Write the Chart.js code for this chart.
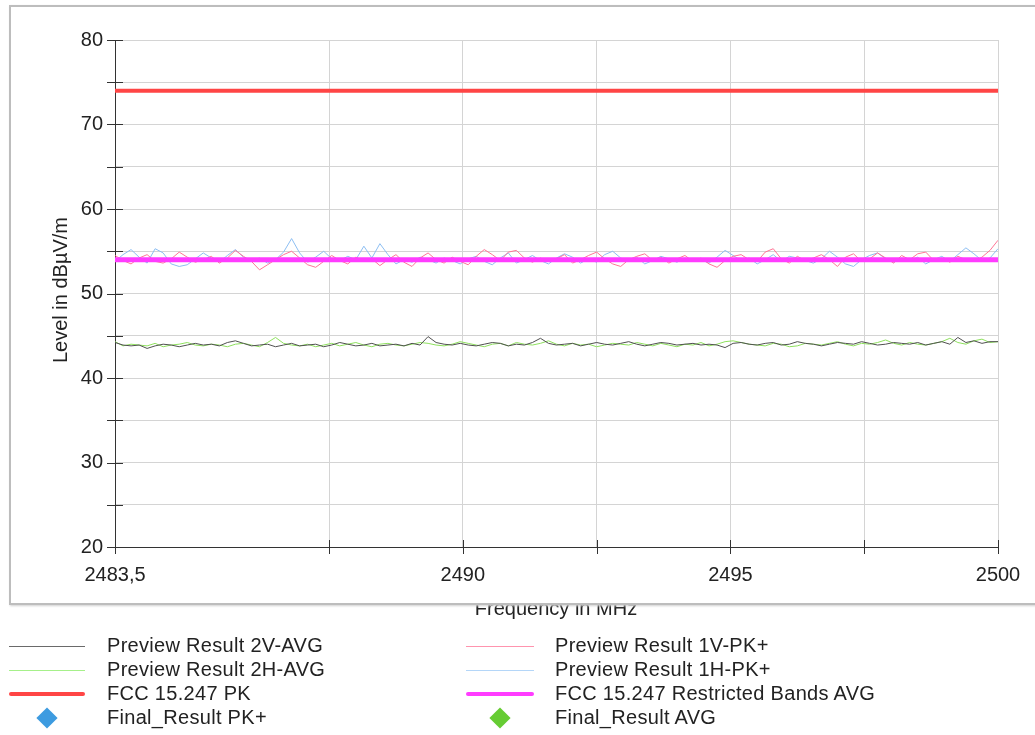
<!DOCTYPE html>
<html>
<head>
<meta charset="utf-8">
<script src="https://cdn.jsdelivr.net/npm/chart.js@4"></script>
<style>
  body { margin: 0; background: #fff; font-family: 'Liberation Sans', Arial, sans-serif; color: #222; }
  #wrap { position: relative; width: 1035px; height: 735px; overflow: hidden; }
  #myChart { position: absolute; left: 0; top: 0; }
  .frame { position: absolute; left: 9px; top: 5px; width: 1060px; height: 596px;
           border: 2px solid #bdbdbd; box-shadow: 1px 1px 2px #d0d0d0; }
  .xtitle { position: absolute; left: 0; top: 605px; width: 1112px; height: 20px; overflow: hidden;
            text-align: center; font-size: 20px; }
  .xtitle span { position: relative; top: -8px; }
  .ytitle { position: absolute; left: 60px; top: 290px; font-size: 20px; white-space: nowrap;
            transform: translate(-50%, -50%) rotate(-90deg); }
  .leg { position: absolute; font-size: 20px; letter-spacing: 0.3px; line-height: 22px; white-space: nowrap; }
  .legline { position: absolute; }
  .diamond { position: absolute; width: 15px; height: 15px; transform: translate(-50%, -50%) rotate(45deg); }
</style>
</head>
<body>
<div id="wrap">
  <canvas id="myChart" width="1035" height="735"></canvas>
  <div class="xtitle"><span>Frequency in MHz</span></div>
  <div class="frame"></div>
  <div class="ytitle">Level in dBµV/m</div>
  <div id="legend"></div>
</div>
<script>
const ctx = document.getElementById('myChart');

// sweep frequencies (MHz)
const freqMHz = [
  2483.5, 2483.65, 2483.8, 2483.95, 2484.1, 2484.25, 2484.4, 2484.55, 2484.7, 2484.85,
  2485.0, 2485.15, 2485.3, 2485.45, 2485.6, 2485.75, 2485.9, 2486.05, 2486.2, 2486.35,
  2486.5, 2486.65, 2486.8, 2486.95, 2487.1, 2487.25, 2487.4, 2487.55, 2487.7, 2487.85,
  2488.0, 2488.15, 2488.3, 2488.45, 2488.6, 2488.75, 2488.9, 2489.05, 2489.2, 2489.35,
  2489.5, 2489.65, 2489.8, 2489.95, 2490.1, 2490.25, 2490.4, 2490.55, 2490.7, 2490.85,
  2491.0, 2491.15, 2491.3, 2491.45, 2491.6, 2491.75, 2491.9, 2492.05, 2492.2, 2492.35,
  2492.5, 2492.65, 2492.8, 2492.95, 2493.1, 2493.25, 2493.4, 2493.55, 2493.7, 2493.85,
  2494.0, 2494.15, 2494.3, 2494.45, 2494.6, 2494.75, 2494.9, 2495.05, 2495.2, 2495.35,
  2495.5, 2495.65, 2495.8, 2495.95, 2496.1, 2496.25, 2496.4, 2496.55, 2496.7, 2496.85,
  2497.0, 2497.15, 2497.3, 2497.45, 2497.6, 2497.75, 2497.9, 2498.05, 2498.2, 2498.35,
  2498.5, 2498.65, 2498.8, 2498.95, 2499.1, 2499.25, 2499.4, 2499.55, 2499.7, 2499.85,
  2500.0
];

// Preview Result 1V-PK+
const v1PK = [
  54.5, 53.9, 53.5, 54.2, 54.6, 53.8, 53.6, 54.1, 54.9, 54.3, 53.7,
  54.0, 54.4, 53.6, 54.2, 55.1, 54.4, 53.8, 52.8, 53.4, 54.0, 54.6,
  55.0, 54.2, 53.4, 53.1, 53.8, 54.5, 53.9, 53.5, 54.3, 53.9, 54.1,
  53.3, 54.0, 54.6, 53.7, 53.2, 54.2, 54.8, 54.0, 53.6, 54.3, 53.8,
  53.4, 54.4, 55.2, 54.6, 53.9, 54.9, 55.1, 54.2, 53.7, 54.2, 53.8,
  54.1, 54.6, 53.6, 54.0, 54.5, 54.9, 54.1, 53.5, 53.2, 54.0, 54.4,
  54.7, 53.9, 54.3, 53.6, 54.1, 54.5, 53.8, 54.2, 53.5, 53.1, 53.9,
  54.4, 54.6, 54.0, 53.8, 54.9, 55.3, 54.1, 53.6, 54.4, 53.9, 54.2,
  54.6, 54.0, 53.2, 54.3, 54.7, 53.8, 54.1, 54.8, 54.2, 53.6, 54.5,
  54.0, 54.7, 54.9, 53.9, 54.2, 53.7, 54.4, 54.0, 53.8, 54.3, 55.1, 56.3
];

// Preview Result 1H-PK+
const h1PK = [
  53.8, 54.6, 55.2, 54.3, 53.6, 55.3, 54.8, 53.5, 53.2, 53.4, 54.1,
  54.8, 54.2, 53.7, 54.5, 55.2, 54.3, 53.9, 54.2, 53.6, 54.0, 54.9,
  56.5, 54.8, 53.7, 54.3, 55.0, 54.1, 53.9, 54.4, 54.0, 55.6, 54.2,
  55.9, 54.6, 53.5, 54.0, 53.7, 54.3, 54.0, 53.6, 54.2, 53.9, 53.5,
  54.1, 54.4, 53.8, 53.4, 54.2, 54.8, 53.6, 54.0, 54.5, 53.9, 53.5,
  54.2, 54.7, 54.3, 53.6, 54.1, 53.7, 54.6, 55.0, 54.2, 53.8, 54.3,
  53.5, 53.9, 54.4, 54.1, 53.7, 54.2, 53.8, 54.0, 53.6, 54.3, 55.1,
  54.5, 53.9, 54.2, 53.5, 54.0, 54.6, 53.8, 54.4, 54.2, 53.9, 53.6,
  54.1, 55.0, 54.3, 53.5, 53.2, 54.0, 54.5, 54.8, 54.1, 53.7, 54.2,
  53.9, 54.3, 53.5, 54.0, 54.4, 53.8, 54.6, 55.4, 54.7, 53.9, 54.2, 55.3
];

// Preview Result 2V-AVG
const v2AVG = [
  44.2, 43.9, 43.8, 43.9, 43.5, 43.8, 44.0, 43.9, 43.7, 43.9, 44.1,
  43.9, 44.0, 43.8, 44.2, 44.4, 44.1, 43.8, 43.9, 44.0, 43.7, 43.9,
  44.1, 43.8, 43.9, 44.0, 43.7, 43.9, 44.2, 44.0, 43.8, 43.9, 44.1,
  43.8, 43.9, 44.0, 43.8, 44.1, 43.9, 44.9, 44.2, 44.0, 43.9, 44.1,
  43.9, 43.8, 44.0, 44.2, 44.1, 43.8, 44.0, 43.9, 44.2, 44.7, 44.1,
  43.9, 44.0, 44.1, 43.8, 44.0, 44.2, 44.0, 43.9, 44.1, 44.3, 44.0,
  43.8, 44.0, 44.2, 44.1, 43.9, 44.0, 44.1, 43.9, 44.0, 43.9, 43.6,
  44.1, 44.2, 44.0, 43.9, 44.1, 44.2, 43.9, 44.0, 44.3, 44.1, 44.0,
  43.8, 44.0, 44.2, 44.1, 44.0, 44.3, 44.1, 43.9, 44.0, 44.2, 44.1,
  44.0, 44.2, 43.9, 44.1, 44.3, 44.0, 44.8, 44.2, 44.4, 44.1, 44.3, 44.3
];

// Preview Result 2H-AVG
const h2AVG = [
  44.3, 43.8, 44.0, 43.9, 43.8, 44.1, 43.7, 43.9, 44.0, 44.2, 43.9,
  43.8, 44.0, 43.9, 43.7, 44.0, 44.1, 43.9, 43.7, 44.2, 44.8, 44.1,
  43.9, 43.8, 44.0, 43.7, 43.9, 44.1, 43.8, 44.0, 44.2, 43.9, 43.7,
  44.0, 44.1, 43.9, 43.8, 44.0, 44.2, 44.1, 43.9, 43.8, 44.0, 44.3,
  44.1, 43.9, 43.7, 44.0, 44.1, 43.8, 44.2, 44.0, 43.9, 44.1, 44.4,
  44.0, 43.8, 44.1, 43.9, 44.0, 43.7, 43.9, 44.1, 44.0, 43.9, 44.2,
  44.0, 43.8, 44.1, 43.9, 43.7, 44.0, 43.9, 44.2, 43.8, 44.0, 44.3,
  44.4, 44.2, 44.0, 43.9, 43.8, 44.1, 44.0, 43.7, 43.8, 44.1, 44.0,
  43.9, 44.1, 44.3, 44.0, 43.8, 44.1, 44.0, 44.2, 44.5, 44.1, 43.9,
  44.2, 44.0, 43.9, 44.1, 44.3, 44.7, 44.2, 44.0, 44.4, 44.6, 44.2, 44.3
];

// limit lines
const limitFreq = [2483.5, 2500];
const fccPK = [74, 74];
const fccAVG = [54, 54];

// axis ticks
const xTicks = [2483.5, 2487.5, 2490, 2492.5, 2495, 2497.5, 2500];
const xTickLabels = ['2483,5', '', '2490', '', '2495', '', '2500'];
const yLabelled = [20, 30, 40, 50, 60, 70, 80];

const pts = (xs, ys) => xs.map((x, i) => ({ x: x, y: ys[i] }));

const font = { family: "'Liberation Sans', Arial, sans-serif", size: 20 };

// short dark tick marks crossing both axes
const crossTicks = {
  id: 'crossTicks',
  afterDraw(chart) {
    const { ctx, chartArea: a, scales: { x, y } } = chart;
    ctx.save();
    ctx.strokeStyle = '#333';
    ctx.lineWidth = 1;
    ctx.beginPath();
    y.ticks.forEach(t => {
      const py = Math.round(y.getPixelForValue(t.value)) + 0.5;
      ctx.moveTo(a.left - 8, py);
      ctx.lineTo(a.left + 8, py);
    });
    x.ticks.forEach(t => {
      const px = Math.round(x.getPixelForValue(t.value)) + 0.5;
      ctx.moveTo(px, a.bottom - 7);
      ctx.lineTo(px, a.bottom + 7);
    });
    ctx.stroke();
    ctx.restore();
  }
};

new Chart(ctx, {
  type: 'line',
  data: {
    datasets: [
      { label: 'FCC 15.247 PK', data: pts(limitFreq, fccPK), borderColor: '#ff4545', borderWidth: 4, order: 0 },
      { label: 'FCC 15.247 Restricted Bands AVG', data: pts(limitFreq, fccAVG), borderColor: '#ff3cff', borderWidth: 5, order: 1 },
      { label: 'Preview Result 1V-PK+', data: pts(freqMHz, v1PK), borderColor: '#ff7596', borderWidth: 1, order: 3 },
      { label: 'Preview Result 1H-PK+', data: pts(freqMHz, h1PK), borderColor: '#8cbef2', borderWidth: 1, order: 4 },
      { label: 'Preview Result 2V-AVG', data: pts(freqMHz, v2AVG), borderColor: '#505050', borderWidth: 1, order: 5 },
      { label: 'Preview Result 2H-AVG', data: pts(freqMHz, h2AVG), borderColor: '#8ee05e', borderWidth: 1, order: 6 }
    ]
  },
  options: {
    responsive: false,
    devicePixelRatio: 1,
    animation: false,
    elements: { point: { radius: 0 }, line: { tension: 0 } },
    layout: { padding: { left: 0, top: 40, right: 37, bottom: 128 } },
    scales: {
      x: {
        type: 'linear',
        min: 2483.5,
        max: 2500,
        afterBuildTicks: s => { s.ticks = xTicks.map(v => ({ value: v })); },
        afterFit: s => { s.height = 60; },
        ticks: {
          autoSkip: false,
          maxRotation: 0,
          padding: 8,
          color: '#222',
          font: font,
          callback: (v, i) => xTickLabels[i]
        },
        grid: { color: '#d4d4d4', tickColor: 'transparent', tickLength: 8 },
        border: { color: '#333', width: 1 }
      },
      y: {
        min: 20,
        max: 80,
        afterFit: s => { s.width = 115; },
        ticks: {
          stepSize: 5,
          padding: 4,
          color: '#222',
          font: font,
          callback: v => (yLabelled.includes(v) ? v : '')
        },
        grid: { color: '#d4d4d4', tickColor: 'transparent', tickLength: 8 },
        border: { color: '#333', width: 1 }
      }
    },
    plugins: {
      legend: { display: false },
      tooltip: { enabled: false }
    }
  },
  plugins: [crossTicks]
});

// legend below the chart
const legendItems = [
  { text: 'Preview Result 2V-AVG', kind: 'line', color: '#6a6a6a', w: 1, col: 0, row: 0 },
  { text: 'Preview Result 2H-AVG', kind: 'line', color: '#a6f08a', w: 1, col: 0, row: 1 },
  { text: 'FCC 15.247 PK', kind: 'line', color: '#ff4545', w: 4, col: 0, row: 2 },
  { text: 'Final_Result PK+', kind: 'diamond', color: '#3d9be0', col: 0, row: 3 },
  { text: 'Preview Result 1V-PK+', kind: 'line', color: '#ff94ae', w: 1, col: 1, row: 0 },
  { text: 'Preview Result 1H-PK+', kind: 'line', color: '#b4d6f8', w: 1, col: 1, row: 1 },
  { text: 'FCC 15.247 Restricted Bands AVG', kind: 'line', color: '#ff3cff', w: 4, col: 1, row: 2 },
  { text: 'Final_Result AVG', kind: 'diamond', color: '#66cc33', col: 1, row: 3 }
];
const rowY = [646, 670, 694, 718];
const colLine = [[9, 85], [466, 534]];
const colText = [107, 555];

const legend = document.getElementById('legend');
legendItems.forEach(it => {
  const cy = rowY[it.row];
  const [x0, x1] = colLine[it.col];
  const mark = document.createElement('div');
  if (it.kind === 'line') {
    mark.className = 'legline';
    mark.style.left = x0 + 'px';
    mark.style.width = (x1 - x0) + 'px';
    mark.style.top = (cy - it.w / 2) + 'px';
    mark.style.height = it.w + 'px';
    mark.style.background = it.color;
    if (it.w > 1) mark.style.borderRadius = '2px';
  } else {
    mark.className = 'diamond';
    mark.style.left = ((x0 + x1) / 2) + 'px';
    mark.style.top = cy + 'px';
    mark.style.background = it.color;
  }
  legend.appendChild(mark);
  const t = document.createElement('div');
  t.className = 'leg';
  t.textContent = it.text;
  t.style.left = colText[it.col] + 'px';
  t.style.top = (cy - 12) + 'px';
  legend.appendChild(t);
});
</script>
</body>
</html>
